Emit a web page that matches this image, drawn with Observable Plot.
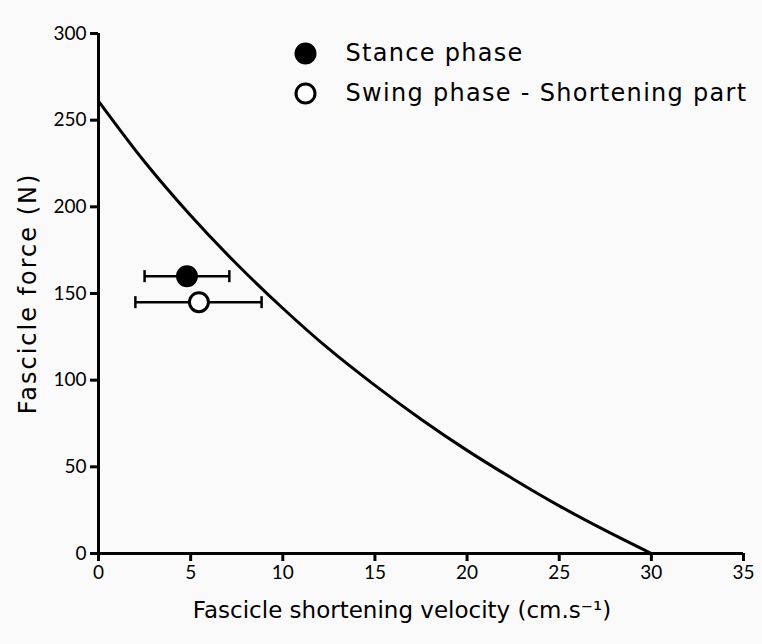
<!DOCTYPE html>
<html><head><meta charset="utf-8">
<script src="https://cdn.jsdelivr.net/npm/d3@7"></script>
<script src="https://cdn.jsdelivr.net/npm/@observablehq/plot@0.6"></script>
<style>
body{margin:0;background:#fafafa;}
#c{width:762px;height:644px;}
</style></head><body><div id="c"></div>
<script>
const curveV = [0, 2.5, 5, 7.5, 10, 12.5, 15, 17.5, 20, 22.5, 25, 27.5, 30];
const curveF = [261, 226, 195, 167, 141.5, 118, 97, 77.5, 59.5, 43, 27.5, 13.3, 0];
const phases = ["Stance phase", "Swing phase - Shortening part"];
const meanV = [4.8, 5.45];
const lowV = [2.5, 2.0];
const highV = [7.1, 8.85];
const meanF = [160, 145];
const xTicks = [0, 5, 10, 15, 20, 25, 30, 35];
const yTicks = [0, 50, 100, 150, 200, 250, 300];
const xLabel = "Fascicle shortening velocity (cm.s⁻¹)";
const yLabel = "Fascicle force (N)";

const curve = curveV.map((v, i) => ({v, f: curveF[i]}));
const pts = phases.map((p, i) => ({p, i, v: meanV[i], lo: lowV[i], hi: highV[i], f: meanF[i], filled: i === 0}));
const caps = pts.flatMap(d => [{x: d.lo, f: d.f}, {x: d.hi, f: d.f}]);

const capSymbol = {draw(ctx, size) { const h = Math.sqrt(size / Math.PI); ctx.moveTo(0, -h); ctx.lineTo(0, h); }};

const tickFont = "Lato, 'DejaVu Sans', sans-serif";
const labelFont = "'DejaVu Sans', sans-serif";
const legendMarks = pts.flatMap((d, i) => [
  Plot.dot([d], {frameAnchor: "top-left", dx: 207, dy: 20 + i * 40, r: 9.5, fill: d.filled ? "#000" : "#fff", stroke: "#000", strokeWidth: 3}),
  Plot.text([d], {frameAnchor: "top-left", text: "p", dx: 247, dy: 20 + i * 40, textAnchor: "start", lineAnchor: "middle", fontSize: 24, fontFamily: labelFont, fill: "#000"})
]);

const chart = Plot.plot({
  width: 762, height: 644,
  marginLeft: 98, marginRight: 19, marginTop: 33, marginBottom: 91,
  style: {background: "#fafafa", fontFamily: tickFont, fontSize: "18px", color: "#000"},
  x: {type: "linear", domain: [0, 35]},
  y: {type: "linear", domain: [0, 300]},
  marks: [
    Plot.axisX({ticks: xTicks, tickSize: 8, strokeWidth: 3, tickPadding: 4, fontSize: 19, label: null}),
    Plot.axisY({ticks: yTicks, tickSize: 8, strokeWidth: 3, tickPadding: 4, fontSize: 19, label: null}),
    Plot.ruleY([0], {stroke: "#000", strokeWidth: 3}),
    Plot.ruleX([0], {stroke: "#000", strokeWidth: 3}),
    Plot.text([xLabel], {frameAnchor: "bottom", dx: -19, dy: 57, lineAnchor: "middle", textAnchor: "middle", fontSize: 23, fontFamily: labelFont, fill: "#000"}),
    Plot.text([yLabel], {frameAnchor: "left", dx: -70, rotate: -90, lineAnchor: "middle", textAnchor: "middle", fontSize: 24, fontFamily: labelFont, fill: "#000"}),
    Plot.line(curve, {x: "v", y: "f", stroke: "#000", strokeWidth: 3, curve: "catmull-rom"}),
    Plot.link(pts, {x1: "lo", x2: "hi", y1: "f", y2: "f", stroke: "#000", strokeWidth: 2.5}),
    Plot.dot(caps, {x: "x", y: "f", r: 6, symbol: capSymbol, stroke: "#000", fill: "none", strokeWidth: 2.5}),
    Plot.dot(pts, {x: "v", y: "f", r: 9.5, fill: d => d.filled ? "#000" : "#fff", stroke: "#000", strokeWidth: 3}),
    ...legendMarks
  ]
});
const spacing = new Map([[yLabel, "2px"], ...phases.map(p => [p, "1.3px"])]);
chart.querySelectorAll("text").forEach(t => {
  const s = spacing.get(t.textContent);
  if (s) t.setAttribute("letter-spacing", s);
});
document.getElementById("c").appendChild(chart);
</script></body></html>
